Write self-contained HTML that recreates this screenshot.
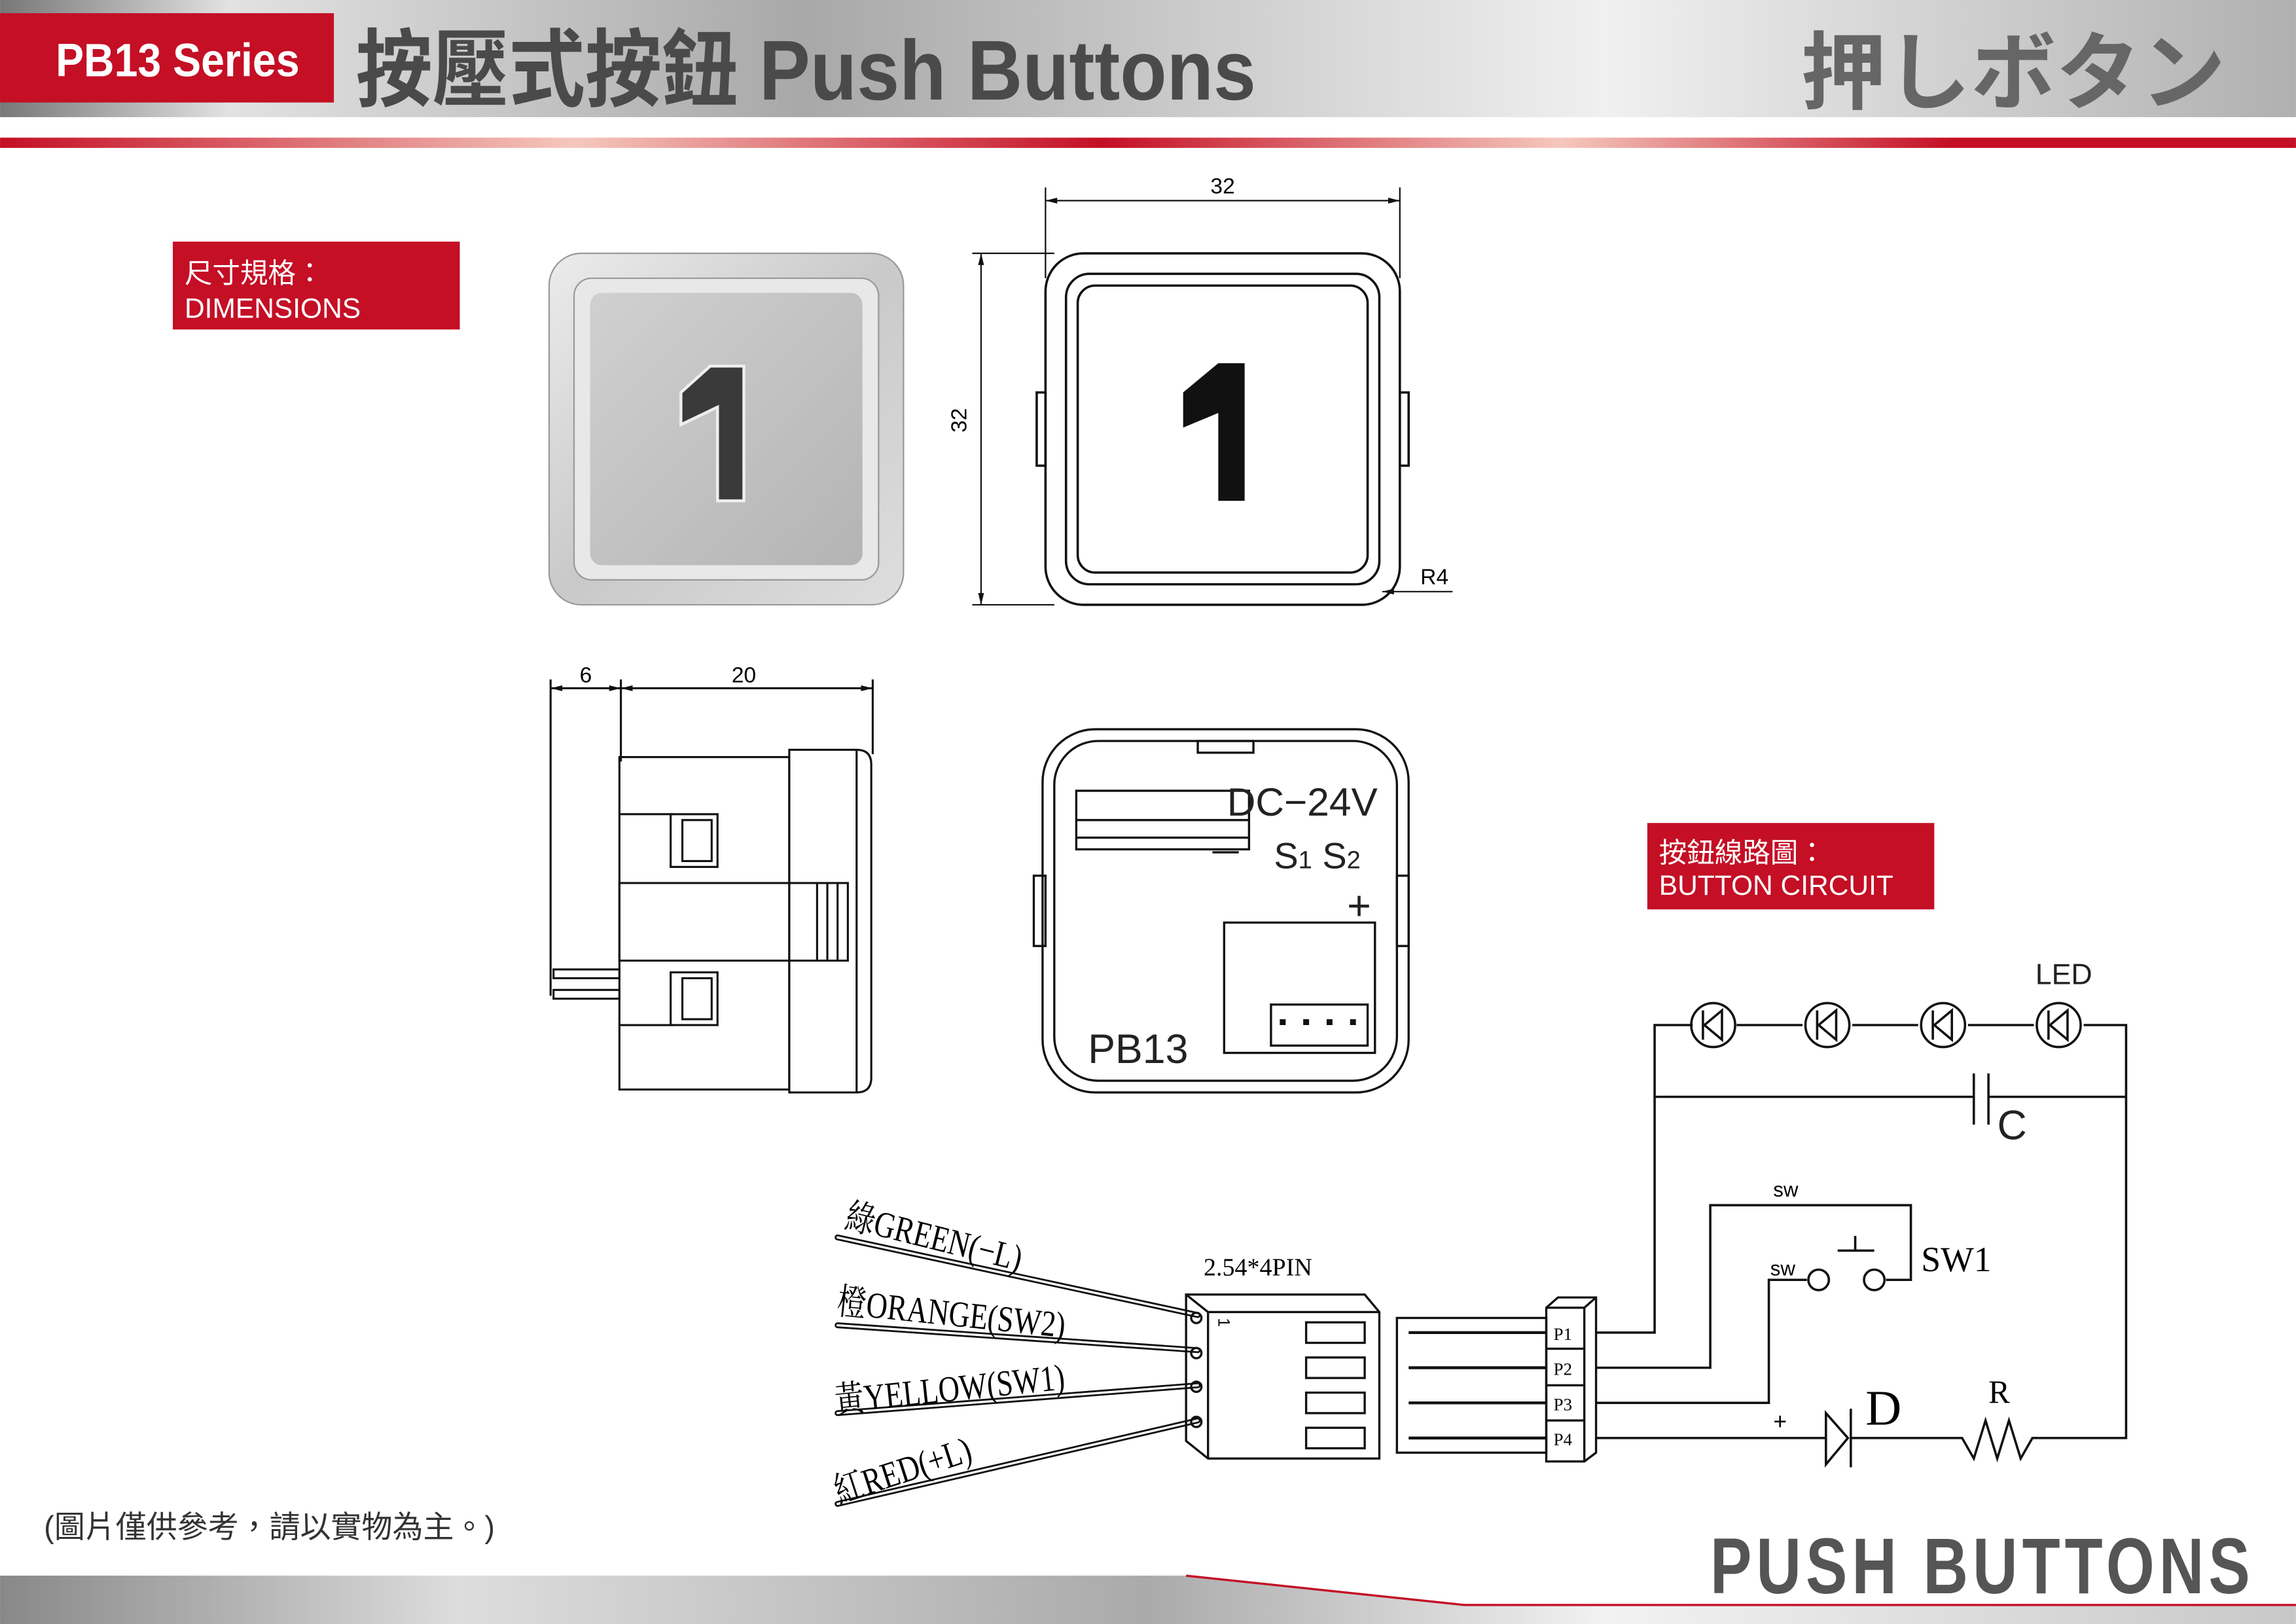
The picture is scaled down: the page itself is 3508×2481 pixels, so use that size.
<!DOCTYPE html>
<html><head><meta charset="utf-8"><style>
html,body{margin:0;padding:0;background:#fff;}
svg{display:block;}
text{font-family:"Liberation Sans","Noto Sans CJK TC",sans-serif;}
text.ser{font-family:"Liberation Serif","Noto Serif CJK SC",serif;}
</style></head><body>
<svg width="3508" height="2481" viewBox="0 0 1568 1109" xmlns="http://www.w3.org/2000/svg">
<defs>
<linearGradient id="hg" x1="0" x2="1">
<stop offset="0" stop-color="#777"/><stop offset="0.1" stop-color="#e2e2e2"/><stop offset="0.35" stop-color="#a8a8a8"/><stop offset="0.7" stop-color="#f0f0f0"/><stop offset="1" stop-color="#b0b0b0"/></linearGradient>
<linearGradient id="rg" x1="0" x2="1">
<stop offset="0" stop-color="#c40f25"/><stop offset="0.25" stop-color="#f5c8bd"/><stop offset="0.48" stop-color="#c40f25"/><stop offset="0.68" stop-color="#f5c8bd"/><stop offset="0.85" stop-color="#c40f25"/><stop offset="1" stop-color="#c40f25"/></linearGradient>
<linearGradient id="bg" x1="0" x2="1">
<stop offset="0" stop-color="#888"/><stop offset="0.2" stop-color="#ddd"/><stop offset="0.5" stop-color="#aaa"/><stop offset="0.7" stop-color="#f2f2f2"/><stop offset="1" stop-color="#c8c8c8"/></linearGradient>
<linearGradient id="met" x1="0" y1="0" x2="1" y2="1">
<stop offset="0" stop-color="#ececec"/><stop offset="0.5" stop-color="#c9c9c9"/><stop offset="1" stop-color="#dedede"/></linearGradient>
<linearGradient id="met2" x1="0" y1="0" x2="1" y2="1">
<stop offset="0" stop-color="#d0d0d0"/><stop offset="1" stop-color="#b4b4b4"/></linearGradient>
</defs>
<!-- header -->
<rect x="0" y="0" width="1568" height="80" fill="url(#hg)"/>
<rect x="0" y="9" width="228" height="61" fill="#c40f25"/>
<text x="38" y="52" fill="#fff" font-size="32" font-weight="bold" transform="translate(38 0) scale(0.9 1) translate(-38 0)">PB13 Series</text>
<text x="243" y="68" fill="#4a4a4a" font-size="58" font-weight="bold" transform="translate(243 0) scale(0.9 1) translate(-243 0)">按壓式按鈕 Push Buttons</text>
<text x="1230" y="70" fill="#666" font-size="58" font-weight="bold">押しボタン</text>
<rect x="0" y="94" width="1568" height="7" fill="url(#rg)"/>
<!-- labels -->
<rect x="118" y="165" width="196" height="60" fill="#c40f25"/>
<text x="126" y="193" fill="#fff" font-size="19">尺寸規格：</text>
<text x="126" y="217" fill="#fff" font-size="19">DIMENSIONS</text>
<rect x="1125" y="562" width="196" height="59" fill="#c40f25"/>
<text x="1133" y="589" fill="#fff" font-size="19">按鈕線路圖：</text>
<text x="1133" y="611" fill="#fff" font-size="19">BUTTON CIRCUIT</text>
<!-- photo -->
<rect x="375" y="173" width="242" height="240" rx="22" fill="url(#met)" stroke="#999"/>
<rect x="392" y="190" width="208" height="206" rx="12" fill="#e8e8e8" stroke="#999"/>
<rect x="403" y="200" width="186" height="186" rx="8" fill="url(#met2)"/>
<path d="M465 268 L485 250 L508 250 L508 342 L490 342 L490 278 L465 290Z" fill="#3a3a3a" stroke="#eee" stroke-width="2"/>
<!-- front drawing -->
<g fill="none" stroke="#111" stroke-width="1.6">
<rect x="714" y="173" width="242" height="240" rx="26"/>
<rect x="728" y="187" width="214" height="212" rx="16"/>
<rect x="736" y="195" width="198" height="196" rx="12"/>
<rect x="708" y="268" width="6" height="50"/>
<rect x="956" y="268" width="6" height="50"/>
</g>
<path d="M808 268 L832 248 L850 248 L850 342 L832 342 L832 282 L808 292Z" fill="#111"/>
<g stroke="#111" stroke-width="1" fill="none">
<line x1="714" y1="128" x2="714" y2="190"/><line x1="956" y1="128" x2="956" y2="190"/>
<line x1="714" y1="137" x2="956" y2="137"/>
<line x1="664" y1="173" x2="720" y2="173"/><line x1="664" y1="413" x2="720" y2="413"/>
<line x1="670" y1="173" x2="670" y2="413"/>
<line x1="944" y1="404" x2="992" y2="404"/>
</g>
<path d="M714 137l8-2v4zM956 137l-8-2v4zM670 173l-2 8h4zM670 413l-2-8h4zM944 404l8-2v4z" fill="#111"/>
<text x="835" y="132" font-size="15" text-anchor="middle">32</text>
<text x="666" y="293" font-size="15" text-anchor="middle" transform="rotate(-90 660 293)">32</text>
<text x="970" y="399" font-size="15">R4</text>
<!-- side view -->
<g fill="none" stroke="#111" stroke-width="1.4">
<line x1="376" y1="464" x2="376" y2="680"/><line x1="424" y1="464" x2="424" y2="520"/><line x1="596" y1="464" x2="596" y2="515"/>
<line x1="376" y1="470" x2="596" y2="470"/>
<rect x="423" y="517" width="116" height="227"/>
<path d="M539 512 L585 512 Q595 512 595 522 L595 736 Q595 746 585 746 L539 746Z"/>
<line x1="585" y1="512" x2="585" y2="746"/>
<rect x="423" y="603" width="156" height="53"/>
<line x1="558" y1="603" x2="558" y2="656"/><line x1="565" y1="603" x2="565" y2="656"/><line x1="572" y1="603" x2="572" y2="656"/>
<line x1="423" y1="556" x2="460" y2="556"/><line x1="423" y1="700" x2="460" y2="700"/>
<rect x="458" y="556" width="32" height="36"/><rect x="466" y="560" width="20" height="28"/>
<rect x="458" y="664" width="32" height="36"/><rect x="466" y="668" width="20" height="28"/>
<rect x="378" y="662" width="45" height="6"/><rect x="378" y="676" width="45" height="6"/>
</g>
<path d="M376 470l8-2v4zM424 470l-8-2v4zM424 470l8-2v4zM596 470l-8-2v4z" fill="#111"/>
<text x="400" y="466" font-size="15" text-anchor="middle">6</text>
<text x="508" y="466" font-size="15" text-anchor="middle">20</text>
<!-- back view -->
<g fill="none" stroke="#111" stroke-width="1.5">
<rect x="712" y="498" width="250" height="248" rx="36"/>
<rect x="720" y="506" width="234" height="232" rx="30"/>
<rect x="818" y="506" width="38" height="8"/>
<rect x="706" y="598" width="8" height="48"/><rect x="954" y="598" width="8" height="48"/>
<rect x="735" y="540" width="118" height="40"/><line x1="735" y1="560" x2="853" y2="560"/><line x1="735" y1="572" x2="853" y2="572"/>
<line x1="828" y1="582" x2="846" y2="582"/>
<rect x="836" y="630" width="103" height="89"/>
<rect x="868" y="686" width="66" height="28"/>
</g>
<g fill="#111"><rect x="874" y="696" width="4" height="4"/><rect x="890" y="696" width="4" height="4"/><rect x="906" y="696" width="4" height="4"/><rect x="922" y="696" width="4" height="4"/></g>
<text x="838" y="557" font-size="27" fill="#222" font-weight="300">DC−24V</text>
<text x="870" y="593" font-size="25" fill="#222">S<tspan font-size="17">1</tspan> S<tspan font-size="17">2</tspan></text>
<text x="920" y="628" font-size="28" fill="#222">+</text>
<text x="743" y="726" font-size="28" fill="#222">PB13</text>
<!-- wires & connector -->
<g stroke="#111" stroke-width="4" stroke-linecap="round" fill="none">
<line x1="572" y1="845" x2="818" y2="898"/><line x1="572" y1="905" x2="818" y2="922"/>
<line x1="572" y1="965" x2="818" y2="946"/><line x1="572" y1="1027" x2="818" y2="970"/>
</g>
<g stroke="#fff" stroke-width="1.5" stroke-linecap="round" fill="none">
<line x1="572" y1="845" x2="818" y2="898"/><line x1="572" y1="905" x2="818" y2="922"/>
<line x1="572" y1="965" x2="818" y2="946"/><line x1="572" y1="1027" x2="818" y2="970"/>
</g>
<g font-size="25">
<text class="ser" x="576" y="838" transform="rotate(14 576 838) translate(576 0) scale(0.8 1) translate(-576 0)">綠GREEN(−L)</text>
<text class="ser" x="571" y="897" transform="rotate(6 571 897) translate(571 0) scale(0.8 1) translate(-571 0)">橙ORANGE(SW2)</text>
<text class="ser" x="571" y="965" transform="rotate(-6 571 965) translate(571 0) scale(0.8 1) translate(-571 0)">黃YELLOW(SW1)</text>
<text class="ser" x="573" y="1027" transform="rotate(-18 573 1027) translate(573 0) scale(0.8 1) translate(-573 0)">紅RED(+L)</text>
</g>
<text class="ser" x="822" y="871" font-size="17">2.54*4PIN</text>
<g fill="none" stroke="#111" stroke-width="1.5">
<path d="M810 884 L932 884 L942 896 L942 996 L825 996 L810 984Z"/>
<line x1="825" y1="896" x2="942" y2="896"/><line x1="825" y1="896" x2="825" y2="996"/>
<line x1="810" y1="884" x2="825" y2="896"/>
<rect x="892" y="903" width="40" height="14"/><rect x="892" y="927" width="40" height="14"/>
<rect x="892" y="951" width="40" height="14"/><rect x="892" y="975" width="40" height="14"/>
<circle cx="817" cy="900" r="3.5"/><circle cx="817" cy="924" r="3.5"/><circle cx="817" cy="947" r="3.5"/><circle cx="817" cy="971" r="3.5"/>
<rect x="954" y="900" width="102" height="92"/>
<path d="M1056 893 L1064 886 L1090 886 L1090 992 L1082 998 L1056 998Z"/>
<line x1="1056" y1="893" x2="1082" y2="893"/><line x1="1082" y1="893" x2="1082" y2="998"/><line x1="1082" y1="893" x2="1090" y2="886"/>
<line x1="1056" y1="921" x2="1082" y2="921"/><line x1="1056" y1="946" x2="1082" y2="946"/><line x1="1056" y1="970" x2="1082" y2="970"/>
</g>
<g stroke="#111" stroke-width="2" fill="none">
<line x1="962" y1="910" x2="1056" y2="910"/><line x1="962" y1="934" x2="1056" y2="934"/>
<line x1="962" y1="958" x2="1056" y2="958"/><line x1="962" y1="982" x2="1056" y2="982"/>
</g>
<g font-size="12">
<text class="ser" x="1061" y="915">P1</text><text class="ser" x="1061" y="939">P2</text><text class="ser" x="1061" y="963">P3</text><text class="ser" x="1061" y="987">P4</text>
</g>
<text x="830" y="908" font-size="11" transform="rotate(90 835 905)">1</text>
<!-- circuit -->
<g stroke="#111" stroke-width="1.6" fill="none">
<path d="M1090 910 L1130 910 L1130 700 L1156 700"/>
<line x1="1186" y1="700" x2="1231" y2="700"/><line x1="1265" y1="700" x2="1310" y2="700"/><line x1="1344" y1="700" x2="1389" y2="700"/>
<path d="M1423 700 L1452 700 L1452 982 L1392 982"/>
<line x1="1130" y1="749" x2="1348" y2="749"/><line x1="1358" y1="749" x2="1452" y2="749"/>
<line x1="1348" y1="733" x2="1348" y2="768"/><path d="M1358 733 L1358 768"/>
<path d="M1090 934 L1168 934 L1168 823 L1305 823 L1305 874 L1288 874"/>
<path d="M1090 958 L1208 958 L1208 874 L1234 874"/>
<line x1="1255" y1="854" x2="1280" y2="854"/><line x1="1267" y1="844" x2="1267" y2="854"/>
<circle cx="1242" cy="874" r="7"/><circle cx="1280" cy="874" r="7"/>
<path d="M1090 982 L1247 982"/>
<path d="M1247 965 L1247 1000 L1262 982Z"/><line x1="1264" y1="962" x2="1264" y2="1002"/>
<path d="M1264 982 L1340 982 L1348 996 L1356 970 L1364 996 L1372 970 L1380 996 L1388 982 L1392 982"/>
</g>
<g stroke="#111" stroke-width="1.6" fill="none">
<circle cx="1170" cy="700" r="15"/><circle cx="1248" cy="700" r="15"/><circle cx="1327" cy="700" r="15"/><circle cx="1406" cy="700" r="15"/>
<path d="M1176 690 L1164 700 L1176 710Z M1163 690 V710"/>
<path d="M1254 690 L1242 700 L1254 710Z M1241 690 V710"/>
<path d="M1333 690 L1321 700 L1333 710Z M1320 690 V710"/>
<path d="M1412 690 L1400 700 L1412 710Z M1399 690 V710"/>
</g>
<text x="1390" y="672" font-size="20" font-weight="300" fill="#222">LED</text>
<text x="1364" y="778" font-size="28" fill="#222" font-weight="300">C</text>
<text x="1211" y="817" font-size="14">sw</text>
<text x="1209" y="871" font-size="14">sw</text>
<text class="ser" x="1312" y="868" font-size="24">SW1</text>
<text class="ser" x="1274" y="973" font-size="34">D</text>
<text class="ser" x="1358" y="958" font-size="22">R</text>
<text x="1211" y="976" font-size="16">+</text>
<!-- footer -->
<text x="30" y="1050" font-size="21" fill="#333">(圖片僅供參考，請以實物為主。)</text>
<text x="1168" y="1088" font-size="54" font-weight="bold" fill="#555" transform="translate(1168 0) scale(0.786 1) translate(-1168 0)" letter-spacing="4">PUSH BUTTONS</text>
<polygon points="0,1076 810,1076 1000,1096 1568,1096 1568,1109 0,1109" fill="url(#bg)"/>
<path d="M810 1076 L1000 1096 L1568 1096" stroke="#c40f25" stroke-width="1.5" fill="none"/>
</svg>
</body></html>
